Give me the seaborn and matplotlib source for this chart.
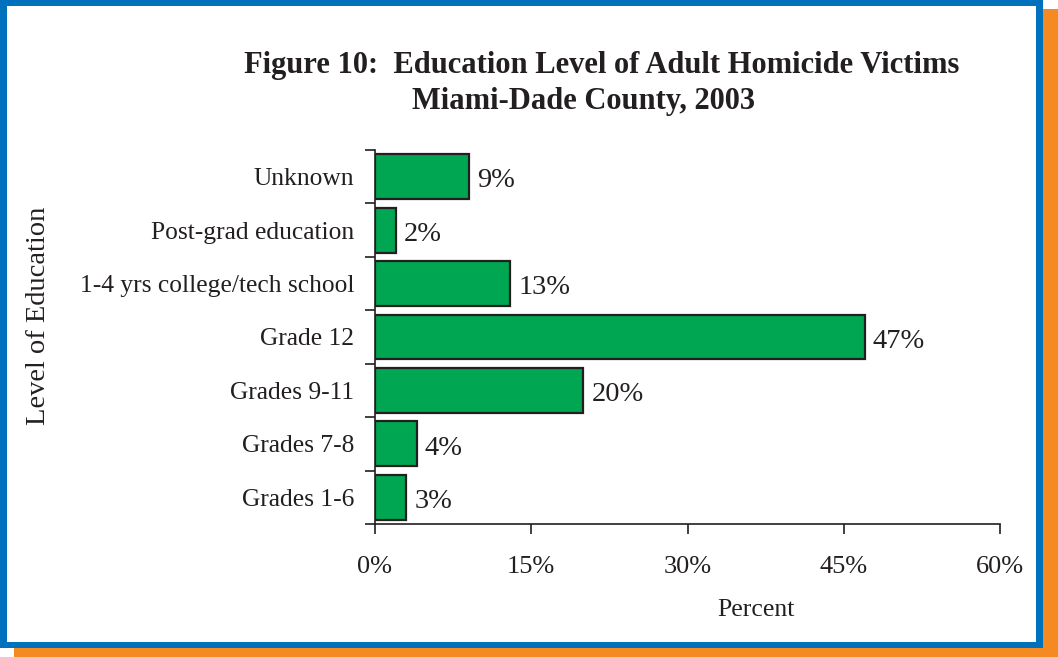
import matplotlib
matplotlib.use("Agg")
import matplotlib.pyplot as plt
from matplotlib.patches import Rectangle
import seaborn as sns
import pandas as pd

# Education level categories, listed top to bottom
levels = [
    "Unknown",
    "Post-grad education",
    "1-4 yrs college/tech school",
    "Grade 12",
    "Grades 9-11",
    "Grades 7-8",
    "Grades 1-6",
]
percent = [9, 2, 13, 47, 20, 4, 3]
x_ticks = [0, 15, 30, 45, 60]
x_tick_labels = ["0%", "15%", "30%", "45%", "60%"]

title_line1 = "Figure 10:  Education Level of Adult Homicide Victims"
title_line2 = "Miami-Dade County, 2003"

df = pd.DataFrame({"level": levels, "percent": percent})

sns.set_theme(style="white")
plt.rcParams["font.family"] = ["Liberation Serif", "DejaVu Serif"]

W, H = 1058, 657
fig = plt.figure(figsize=(W / 100, H / 100), dpi=100)

# Framed page: orange drop shadow, blue border, white interior
def px_rect(x0, y0, x1, y1, color, z):
    fig.patches.append(Rectangle((x0 / W, 1 - y1 / H), (x1 - x0) / W, (y1 - y0) / H,
                                 transform=fig.transFigure, facecolor=color,
                                 edgecolor="none", zorder=z))

px_rect(14, 9, 1058, 657, "#F58A22", -3)
px_rect(0, 0, 1043, 648, "#0071BC", -2)
px_rect(7, 6, 1036, 642, "white", -1)
fig.patch.set_facecolor("white")

ax = fig.add_axes([375 / W, 1 - 524 / H, (1000 - 375) / W, (524 - 150) / H])
ax.set_facecolor("none")

sns.barplot(data=df, x="percent", y="level", order=levels, color="#00A651",
            saturation=1, width=0.84, edgecolor="#231F20", linewidth=1.6, ax=ax)

# Value labels just right of each bar end
for i, v in enumerate(percent):
    ax.annotate(f"{v}%", xy=(v, i), xytext=(6, -3), textcoords="offset points",
                ha="left", va="center", fontsize=20.5, color="#231F20")

ax.set_xlim(0, 60)
ax.set_ylim(len(levels) - 0.5, -0.5)
ax.set_xticks(x_ticks)
ax.set_xticklabels(x_tick_labels, fontsize=19, color="#231F20")
ax.tick_params(axis="x", which="major", direction="out", length=7, width=1.2,
               color="#231F20", pad=16, bottom=True)

# Category labels centred on bars, tick marks at the category boundaries
ax.set_yticks(range(len(levels)))
ax.set_yticklabels(levels, fontsize=18.4, color="#231F20")
ax.tick_params(axis="y", which="major", length=0, pad=15, left=False)
ax.set_yticks([i - 0.5 for i in range(len(levels) + 1)], minor=True)
ax.tick_params(axis="y", which="minor", direction="out", length=7, width=1.2,
               color="#231F20", left=True)

for side in ["top", "right"]:
    ax.spines[side].set_visible(False)
for side in ["left", "bottom"]:
    ax.spines[side].set_color("#231F20")
    ax.spines[side].set_linewidth(1.2)

ax.set_xlabel("Percent", fontsize=18.5, color="#231F20")
ax.set_ylabel("Level of Education", fontsize=20.5, color="#231F20")
ax.xaxis.set_label_coords((756 - 375) / 625, -(610 - 524) / 374)
ax.xaxis.label.set_va("center")
ax.yaxis.set_label_coords((38 - 375) / 625, (524 - 316) / 374)
ax.yaxis.label.set_va("center")

fig.text(602 / W, 1 - 66 / H, title_line1, ha="center", va="center",
         fontsize=22, fontweight="bold", color="#231F20")
fig.text(584 / W, 1 - 102 / H, title_line2, ha="center", va="center",
         fontsize=22, fontweight="bold", color="#231F20")

fig.savefig("out.png", dpi=100, facecolor="white")
